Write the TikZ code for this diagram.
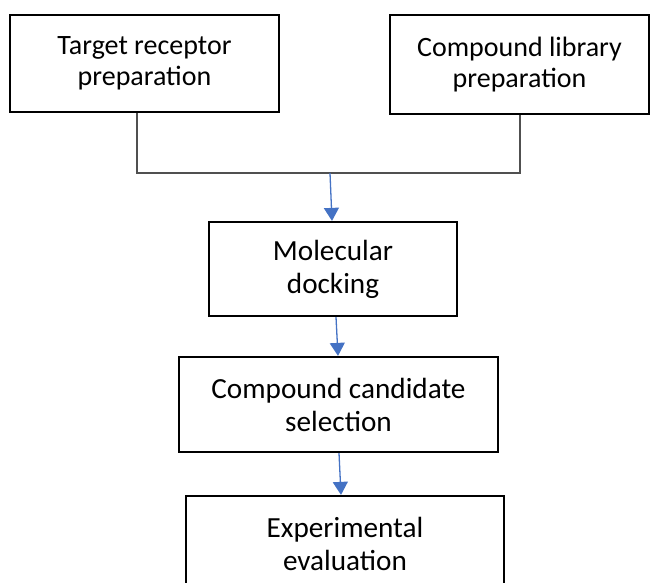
\documentclass[tikz,border=0pt]{standalone}
\usepackage{fontspec}
\setmainfont{Carlito}
\usetikzlibrary{arrows.meta}
\definecolor{flowblue}{HTML}{4472C4}
\definecolor{linkgray}{HTML}{505050}

\begin{document}
\begin{tikzpicture}[x=1pt,y=-1pt,
    stepbox/.style={draw=black,line width=2.2pt,align=center,inner sep=0pt,
        font=\fontsize{28pt}{31.5pt}\selectfont,execute at begin node={\rule{0pt}{22pt}}},
    bigbox/.style={stepbox,font=\fontsize{29.2pt}{33pt}\selectfont},
    flow/.style={draw=flowblue,line width=1.3pt,-{Triangle[width=15pt,length=13pt]}},
    joinline/.style={draw=linkgray,line width=1.4pt}]
   \clip (0,0) rectangle (651,583);

   % input boxes
   \node[stepbox,minimum width=269pt,minimum height=97pt] (target) at (144.5,63.5) {Target receptor\\preparation};
   \node[stepbox,minimum width=259pt,minimum height=99pt] (library) at (519.5,64.5) {Compound library\\preparation};

   % pipeline
   \node[bigbox,minimum width=248pt,minimum height=94pt] (docking) at (333,269) {Molecular\\docking};
   \node[bigbox,minimum width=319pt,minimum height=95pt] (select) at (338.5,404.5) {Compound candidate\\selection};
   \node[bigbox,minimum width=318pt,minimum height=95pt] (experiment) at (345,543.5) {Experimental\\evaluation};

   \coordinate (join) at (330,173);
   \draw[joinline] ([xshift=-7.5pt]target.south) |- (join) -| ([xshift=0.5pt]library.south);

   \draw[flow] (join) -- ([xshift=-1pt]docking.north);
   \draw[flow] ([xshift=3pt]docking.south) -- ([xshift=-0.5pt]select.north);
   \draw[flow] ([xshift=0.5pt]select.south) -- ([xshift=-4pt]experiment.north);
\end{tikzpicture}
\end{document}
